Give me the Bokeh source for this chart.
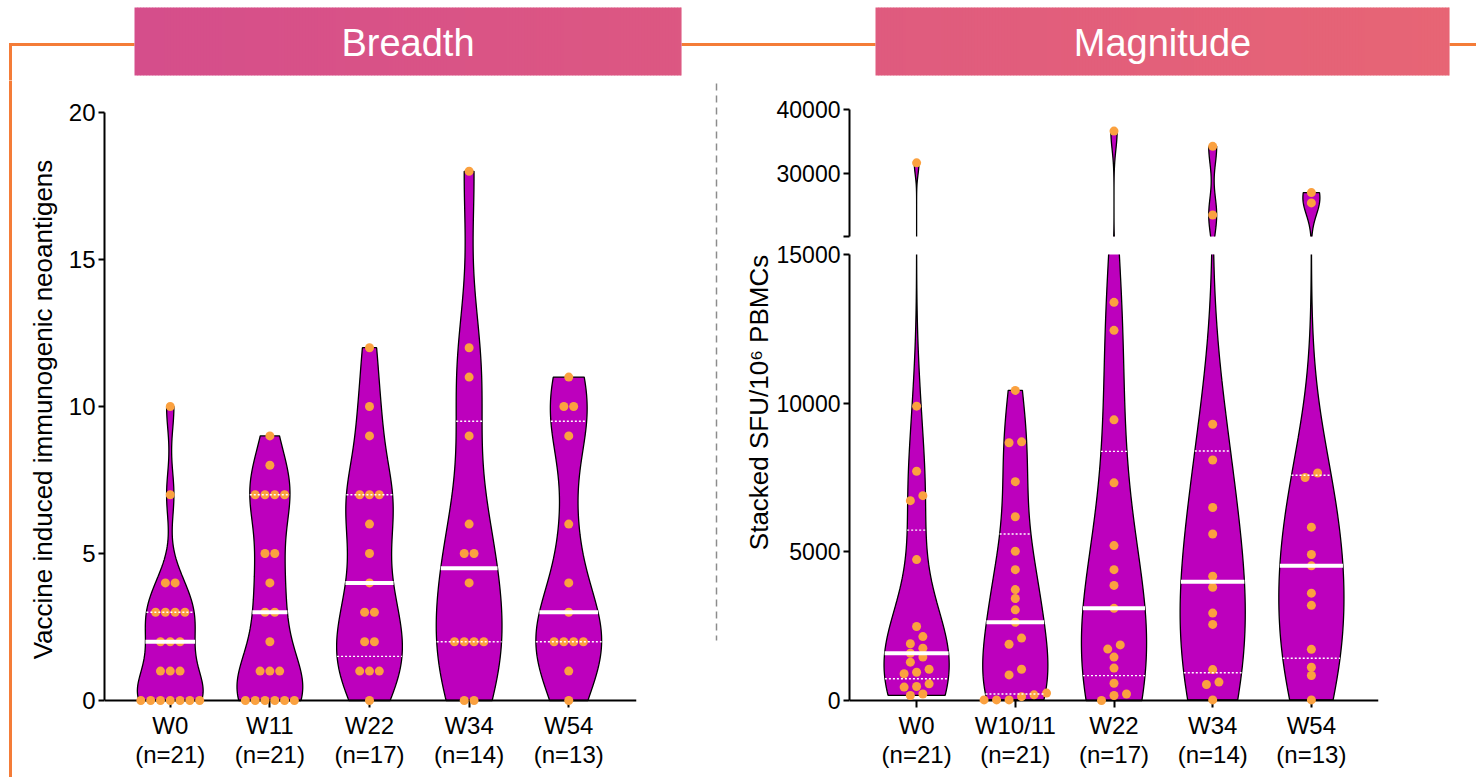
import numpy as np
from bokeh.plotting import figure
from bokeh.models import Range1d, FixedTicker, Span
from bokeh.layouts import row, column
from bokeh.core.properties import value
from bokeh.embed import file_html
from bokeh.resources import INLINE

# ---------------- data ----------------
panel_titles = ["Breadth", "Magnitude"]

breadth_categories = ["W0", "W11", "W22", "W34", "W54"]
breadth_w0 = [0, 0, 0, 0, 0, 0, 0, 1, 1, 1, 2, 2, 2, 3, 3, 3, 3, 4, 4, 7, 10]
breadth_w11 = [0, 0, 0, 0, 0, 0, 1, 1, 1, 2, 3, 3, 4, 5, 5, 7, 7, 7, 7, 8, 9]
breadth_w22 = [0, 1, 1, 1, 2, 2, 3, 3, 4, 5, 6, 7, 7, 7, 9, 10, 12]
breadth_w34 = [0, 0, 2, 2, 2, 2, 4, 5, 5, 6, 9, 11, 12, 18]
breadth_w54 = [0, 1, 2, 2, 2, 2, 3, 4, 6, 9, 10, 10, 11]

magnitude_categories = ["W0", "W10/11", "W22", "W34", "W54"]
magnitude_w0 = [170, 220, 450, 470, 560, 900, 950, 1050, 1290, 1460, 1590, 1760,
                1910, 2150, 2490, 4740, 6720, 6890, 7710, 9900, 31600]
magnitude_w11 = [20, 20, 20, 130, 190, 250, 860, 1050, 1890, 2100, 2630, 3050,
                 3430, 3730, 4400, 5020, 6180, 7360, 8670, 8700, 10430]
magnitude_w22 = [0, 170, 220, 580, 1090, 1460, 1730, 1870, 3100, 3870, 4400, 5210,
                 7320, 9440, 12450, 13390, 36600]
magnitude_w34 = [20, 540, 620, 1040, 2560, 2940, 3810, 4180, 5600, 6490, 8090, 9290,
                 23380, 34200]
magnitude_w54 = [20, 840, 1120, 1720, 3200, 3610, 4530, 4910, 5830, 7500, 7650,
                 25290, 26920]

breadth_series = [breadth_w0, breadth_w11, breadth_w22, breadth_w34, breadth_w54]
magnitude_series = [magnitude_w0, magnitude_w11, magnitude_w22, magnitude_w34, magnitude_w54]

breadth_yticks = [0, 5, 10, 15, 20]
magnitude_low_yticks = [0, 5000, 10000, 15000]
magnitude_high_yticks = [20000, 30000, 40000]
breadth_ylabel = "Vaccine induced immunogenic neoantigens"
magnitude_ylabel = "Stacked SFU/10\u2076 PBMCs"

# ---------------- style ----------------
FONT = "Liberation Sans"
VIOLIN = "#BD00BD"
DOT = "#FBA13F"
ORANGE = "#F47C38"
W, H = 1476, 777
TOP_H = 80
ROW_H = H - TOP_H
PAD = 6  # px of frame below zero so dots on the baseline are not clipped


def blank(width, height, x0, x1, y0, y1):
    p = figure(width=width, height=height, x_range=Range1d(x0, x1), y_range=Range1d(y0, y1),
               output_backend="svg", toolbar_location=None, x_axis_location=None,
               y_axis_location=None, min_border=0, title=None)
    p.outline_line_color = None
    p.grid.visible = False
    return p


def style_axes(p, ytick_size="24px"):
    p.outline_line_color = None
    p.xgrid.visible = False
    p.ygrid.visible = False
    for ax in p.axis:
        ax.axis_line_width = 2
        ax.axis_line_color = "black"
        ax.major_tick_line_width = 2
        ax.major_tick_line_color = "black"
        ax.major_tick_out = 6
        ax.major_tick_in = 0
        ax.minor_tick_out = 0
        ax.minor_tick_in = 0
        ax.major_label_text_font = FONT
        ax.major_label_text_font_size = ytick_size
        ax.major_label_text_color = "black"
        ax.major_label_text_line_height = 1.1
        ax.major_label_standoff = 3
        ax.axis_label_text_font = FONT
        ax.axis_label_text_font_size = "26px"
        ax.axis_label_text_font_style = "normal"
        ax.axis_label_text_color = "black"


def style_xaxis(p, cats, series):
    ax = p.xaxis[0]
    ax.ticker = FixedTicker(ticks=list(range(len(cats))))
    ax.major_label_overrides = {i: f"{c}\n(n={len(s)})" for i, (c, s) in enumerate(zip(cats, series))}
    ax.major_label_text_font_size = "24px"
    ax.axis_line_color = None
    ax.major_tick_in = PAD
    ax.major_tick_out = 7 - PAD
    ax.major_label_standoff = 4
    p.add_layout(Span(location=0, dimension="width", line_color="black", line_width=2))


def violin_geom(vals, half, factor, npts=800):
    v = np.sort(np.asarray(vals, float))
    n = len(v)
    q1, med, q3 = np.percentile(v, [25, 50, 75], method="weibull")
    sd = v.std(ddof=1)
    spread = min(sd, (q3 - q1) / 1.34) if q3 > q1 else sd
    h = factor * 0.9 * spread * n ** -0.2
    ys = np.linspace(v[0], v[-1], npts)
    d = np.exp(-0.5 * ((ys[:, None] - v[None, :]) / h) ** 2).sum(axis=1)
    w = half * d / d.max()
    return ys, w, (q1, med, q3)


def swarm_offsets(vals, to_px, step_px, px_cat, row_px=8.0):
    v = np.asarray(vals, float)
    order = np.argsort(v, kind="stable")
    ypx = to_px(v)
    offs = np.zeros(len(v))
    i = 0
    while i < len(order):
        j = i
        while j + 1 < len(order) and abs(ypx[order[j + 1]] - ypx[order[i]]) < row_px:
            j += 1
        k = j - i + 1
        for r, idx in enumerate(order[i:j + 1]):
            offs[idx] = (r - (k - 1) / 2) * step_px / px_cat
        i = j + 1
    return offs


def add_violins(figs, series, factor, step_px, px_cat, to_px, half=0.33):
    pxs, pys = [], []
    mx0, mx1, my = [], [], []
    qx0, qx1, qy = [], [], []
    dx, dy = [], []
    for i, vals in enumerate(series):
        ys, w, (q1, med, q3) = violin_geom(vals, half, factor)
        pxs.append(list(np.concatenate([i + w, (i - w)[::-1]])))
        pys.append(list(np.concatenate([ys, ys[::-1]])))
        wm = float(np.interp(med, ys, w))
        mx0.append(i - wm); mx1.append(i + wm); my.append(float(med))
        for q in (q1, q3):
            if q > min(vals):
                wq = float(np.interp(q, ys, w))
                qx0.append(i - wq); qx1.append(i + wq); qy.append(float(q))
        offs = swarm_offsets(vals, to_px, step_px, px_cat)
        dx.extend(list(i + offs)); dy.extend([float(x) for x in vals])
    for p in figs:
        p.patches(xs=pxs, ys=pys, fill_color=VIOLIN, line_color="black", line_width=1.3)
        p.scatter(dx, dy, size=9, fill_color=DOT, line_color=None, level="overlay")
        p.segment(qx0, qy, qx1, qy, line_color="white", line_width=1.4, line_dash="2 2",
                  level="overlay")
        p.segment(mx0, my, mx1, my, line_color="white", line_width=4, level="overlay")


# ---------------- top strip: headers and orange frame ----------------
top = blank(W, TOP_H, 0, W, H - TOP_H, H)
c0 = np.array([0xD5, 0x4E, 0x8B], float)
c1 = np.array([0xE7, 0x65, 0x75], float)
gx0, gx1 = 134, 1449
boxes = [(134, 681), (875, 1449)]
top.segment(x0=[8.5, 681, 1449], y0=[H - 44] * 3, x1=[134, 875, W], y1=[H - 44] * 3,
            line_color=ORANGE, line_width=3)
top.segment(x0=[10], y0=[H - 44], x1=[10], y1=[H - TOP_H], line_color=ORANGE, line_width=3)
for bx0, bx1 in boxes:
    lefts = np.arange(bx0, bx1, 3.0)
    rights = np.minimum(lefts + 3.6, bx1)
    t = (lefts + 1.5 - gx0) / (gx1 - gx0)
    cols = ["#%02x%02x%02x" % tuple(int(round(c)) for c in (c0 + (c1 - c0) * ti)) for ti in t]
    top.quad(left=lefts, right=rights, top=H - 7, bottom=H - 75, fill_color=cols, line_color=None)
top.text(x=[(b[0] + b[1]) / 2 for b in boxes], y=[H - 42] * 2, text=panel_titles,
         text_font=value(FONT), text_font_size="38px", text_color="white",
         text_align="center", text_baseline="middle")

# ---------------- left orange strip ----------------
lstrip = blank(20, ROW_H, 0, 20, 0, ROW_H)
lstrip.segment(x0=[10], y0=[-5], x1=[10], y1=[ROW_H + 5], line_color=ORANGE, line_width=3)

# ---------------- left panel (breadth) ----------------
b_ppu = 588 / 20
pl = figure(frame_width=532, frame_height=588 + PAD, min_border_left=84, min_border_right=78,
            min_border_top=32, min_border_bottom=77 - PAD,
            x_range=Range1d(-0.66, 4.68), y_range=Range1d(-PAD / b_ppu, breadth_yticks[-1]),
            output_backend="svg", toolbar_location=None, title=None)
style_axes(pl, "24px")
pl.yaxis.ticker = FixedTicker(ticks=breadth_yticks)
pl.yaxis.bounds = (breadth_yticks[0], breadth_yticks[-1])
pl.yaxis.axis_label = breadth_ylabel
pl.yaxis.axis_label_standoff = 8
style_xaxis(pl, breadth_categories, breadth_series)
add_violins([pl], breadth_series, factor=0.75, step_px=9.8, px_cat=532 / 5.34,
            to_px=lambda v: v * b_ppu)

# ---------------- middle strip: dashed separator + right axis title ----------------
MS0, MS1 = 714, 773
mstrip = blank(MS1 - MS0, ROW_H, MS0, MS1, 0, ROW_H)
mstrip.segment(x0=[716], y0=[H - 83], x1=[716], y1=[H - 640], line_color="#8c8c8c",
               line_width=1.5, line_dash="7 5")
mstrip.text(x=[758], y=[H - 402], text=[magnitude_ylabel], angle=np.pi / 2,
            text_font=value(FONT), text_font_size="26px", text_color="black",
            text_align="center", text_baseline="middle")

# ---------------- right panel (magnitude, broken axis) ----------------
xr = Range1d(-0.68, 4.68)
m_ppu = 446 / 15000
RB_LEFT = 848 - MS1
RB_RIGHT = W - 848 - 529
pu = figure(frame_width=529, frame_height=127, min_border_left=RB_LEFT, min_border_right=RB_RIGHT,
            min_border_top=29, min_border_bottom=2, x_range=xr,
            y_range=Range1d(magnitude_high_yticks[0], magnitude_high_yticks[-1]),
            x_axis_location=None, output_backend="svg", toolbar_location=None, title=None)
style_axes(pu, "23px")
pu.yaxis.ticker = FixedTicker(ticks=magnitude_high_yticks)
pu.yaxis.major_label_overrides = {magnitude_high_yticks[0]: ""}

pw = figure(frame_width=529, frame_height=446 + PAD, min_border_left=RB_LEFT, min_border_right=RB_RIGHT,
            min_border_top=16, min_border_bottom=77 - PAD, x_range=xr,
            y_range=Range1d(-PAD / m_ppu, magnitude_low_yticks[-1]),
            output_backend="svg", toolbar_location=None, title=None)
style_axes(pw, "23px")
pw.yaxis.ticker = FixedTicker(ticks=magnitude_low_yticks)
pw.yaxis.bounds = (magnitude_low_yticks[0], magnitude_low_yticks[-1])
style_xaxis(pw, magnitude_categories, magnitude_series)


def mag_px(v):
    v = np.asarray(v, float)
    return np.where(v <= 15000, v * m_ppu, 464 + (v - 20000) * 127 / 20000)


add_violins([pu, pw], magnitude_series, factor=1.0, step_px=12.5, px_cat=529 / 5.36,
            to_px=mag_px)

layout = column(top, row(column(lstrip), pl, column(mstrip), column(pu, pw)))
with open("out.html", "w", encoding="utf-8") as f:
    f.write(file_html(layout, INLINE))
